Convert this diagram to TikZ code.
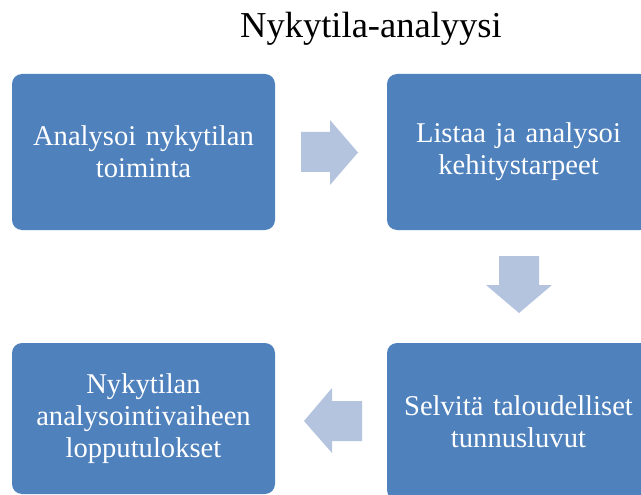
\documentclass[tikz,border=0pt]{standalone}
\usepackage{fontspec}
\setmainfont{Liberation Serif}
\definecolor{boxblue}{RGB}{79,129,189}
\definecolor{arrowblue}{RGB}{180,195,222}
\tikzset{
  stage/.style={draw=none, fill=boxblue, rounded corners=10pt, text=white,
    minimum width=263pt, text width=250pt, align=center,
    font=\fontsize{28.6}{32}\selectfont, inner sep=0pt},
  blockarrow/.style={fill=arrowblue}
}
\begin{document}
\begin{tikzpicture}[x=1pt,y=-1pt]
  \useasboundingbox (0,0) rectangle (641,495);
  \clip (0,0) rectangle (641,495);
  % title
  \node[font=\fontsize{36.5}{40}\selectfont, anchor=base] (title) at (371,38) {Nykytila-analyysi};
  % the four stages
  \node[stage, minimum height=156pt] (s1) at (143.5,152) {Analysoi nykytilan\\toiminta};
  \node[stage, minimum height=156pt] (s2) at (518.5,152) {Listaa ja analysoi\\kehitystarpeet};
  \node[stage, minimum height=157pt] (s3) at (518.5,421.5) {Selvitä taloudelliset\\tunnusluvut};
  \node[stage, minimum height=151pt] (s4) at (143.5,418.5) {Nykytilan\\analysointivaiheen\\lopputulokset};
  % block arrows between the stages
  \fill[blockarrow] (301,132) -- (330,132) -- (330,120) -- (358,152.5) -- (330,185) -- (330,172) -- (301,172) -- cycle;
  \fill[blockarrow] (499,256) -- (539,256) -- (539,285) -- (552,285) -- (519,313) -- (486,285) -- (499,285) -- cycle;
  \fill[blockarrow] (362,401) -- (332,401) -- (332,388) -- (304,421) -- (332,453) -- (332,441) -- (362,441) -- cycle;
\end{tikzpicture}
\end{document}
